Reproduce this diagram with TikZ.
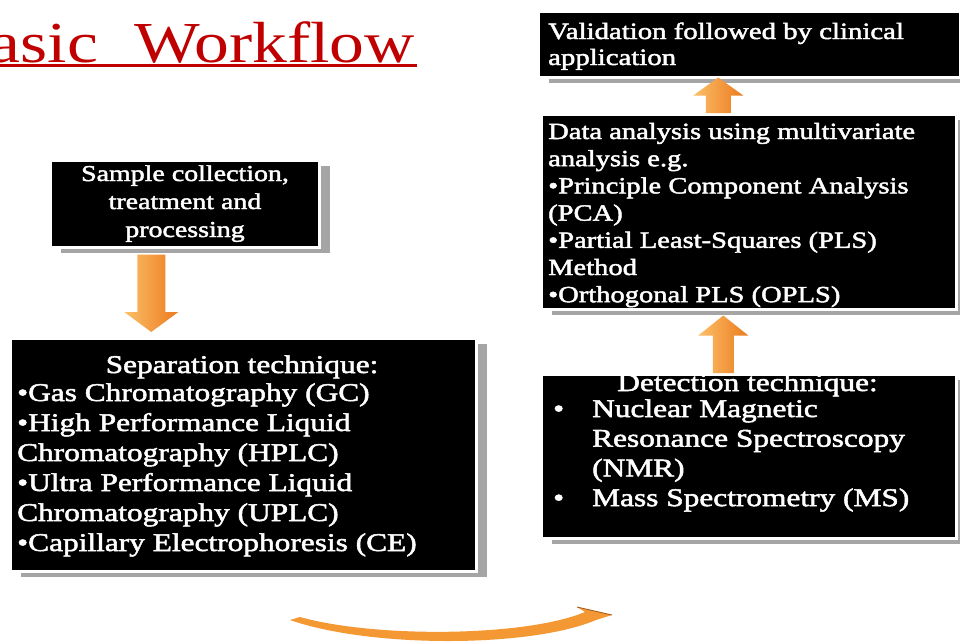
\documentclass[tikz,border=0pt]{standalone}
\usepackage{fontspec}
\setmainfont{Liberation Serif}[FakeStretch=1.23, FakeBold=2]
\newfontfamily\titlefont{Liberation Serif}[FakeStretch=1.2]
\usetikzlibrary{calc,shadows}
\definecolor{titlered}{RGB}{192,0,0}
\definecolor{olight}{RGB}{252,192,105}
\definecolor{odark}{RGB}{235,122,30}
\definecolor{ocurve}{RGB}{244,152,52}
\definecolor{shadowgray}{RGB}{165,165,165}
\newcommand{\leftlines}[1]{\vtop{\halign{##\hfil\cr #1\crcr}}}
\newcommand{\centerlines}[1]{\vtop{\halign{\hfil##\hfil\cr #1\crcr}}}
\newcommand{\bulletlines}[1]{\vtop{\halign{\hbox to 39pt{##\hfil}&##\hfil\cr #1\crcr}}}
\newcommand{\blockarrow}[5]{%
  \shade[arrowfill] ($(#1)+(-#3,0)$) -- ($(#2)+(-#3,#5)$) -- ($(#2)+(-#4,#5)$) -- (#2)
    -- ($(#2)+(#4,#5)$) -- ($(#2)+(#3,#5)$) -- ($(#1)+(#3,0)$) -- cycle;}
\tikzset{
  box/.style={rectangle, fill=black, draw=white, line width=2.5pt, inner sep=0pt,
    anchor=north west,
    drop shadow={shadow xshift=11pt, shadow yshift=-6pt, fill=shadowgray, opacity=1}},
  txt/.style={text=white, inner sep=0pt},
  arrowfill/.style={left color=olight, right color=odark},
}
\begin{document}
\begin{tikzpicture}[x=1pt,y=-1pt]
\useasboundingbox (0,0) rectangle (960,643);
\clip (0,0) rectangle (960,643);
\fill[white] (0,0) rectangle (960,643);

% title
\node[anchor=base east, text=titlered, inner sep=0pt] (title) at (415,62)
  {\titlefont\fontsize{58}{60}\selectfont Basic\hspace*{19pt} Workflow};
\draw[titlered, line width=3pt] ([yshift=-3pt]title.base west) -- ([yshift=-3pt,xshift=2pt]title.base east);

% boxes
\node[box, minimum width=422pt, minimum height=66pt] (val) at (537,10) {};
\node[box, minimum width=415pt, minimum height=195pt] (data) at (540,113) {};
\node[box, minimum width=415pt, minimum height=164pt] (det) at (540,373) {};
\node[box, minimum width=269pt, minimum height=87pt] (sample) at (49,159) {};
\node[box, minimum width=466pt, minimum height=233pt] (sep) at (9,337) {};

% texts
\node[txt, anchor=base west] (valT) at (548,39)
  {\fontsize{23.4}{26}\selectfont\leftlines{Validation followed by clinical\cr application}};
\node[txt, anchor=base west] (dataT) at (548,139)
  {\fontsize{23.2}{27.2}\selectfont\leftlines{Data analysis using multivariate\cr analysis e.g.\cr
   •Principle Component Analysis\cr (PCA)\cr •Partial Least-Squares (PLS)\cr Method\cr
   •Orthogonal PLS (OPLS)}};
\node[txt, anchor=base] (detH) at (747.5,391)
  {\fontsize{25.5}{29.7}\selectfont Detection technique:};
\node[txt, anchor=base west] (detL) at (553,417)
  {\fontsize{25.5}{29.7}\selectfont\bulletlines{•&Nuclear Magnetic\cr &Resonance Spectroscopy\cr
   &(NMR)\cr •&Mass Spectrometry (MS)}};
\node[txt, anchor=base] (sampleT) at (185,181)
  {\fontsize{22.7}{28}\selectfont\centerlines{Sample collection,\cr treatment and\cr processing}};
\node[txt, anchor=base] (sepH) at (242,373)
  {\fontsize{25.5}{30}\selectfont Separation technique:};
\node[txt, anchor=base west] (sepL) at (17,401)
  {\fontsize{25.5}{30}\selectfont\leftlines{•Gas Chromatography (GC)\cr •High Performance Liquid\cr
   Chromatography (HPLC)\cr •Ultra Performance Liquid\cr Chromatography (UPLC)\cr
   •Capillary Electrophoresis (CE)}};

% block arrows
\coordinate (aT) at ([xshift=-33.5pt,yshift=-6pt]sample.south);
\coordinate (aP) at ([xshift=-92pt,yshift=5pt]sep.north);
\blockarrow{aT}{aP}{14}{27}{-20}
\coordinate (bT) at ([xshift=-25.5pt]det.north);
\coordinate (bP) at ([xshift=-25.5pt,yshift=-5pt]data.south);
\blockarrow{bT}{bP}{10.5}{25}{20}
\coordinate (cT) at ([xshift=-30.5pt]data.north);
\coordinate (cP) at ([xshift=-31pt,yshift=1pt]val.south);
\blockarrow{cT}{cP}{12.5}{25}{18}

% curved arrow
\coordinate (cL) at (290,620);
\coordinate (cR) at (612,615);
\fill[ocurve] (cL) .. controls (370,648) and (530,648) .. (596,620) -- (cR) -- (577,607)
  -- (585,612) .. controls (525,637) and (375,638) .. (300,617) -- cycle;
\draw[odark!70!black, line width=0.8pt] (577,607) -- (cR);
\end{tikzpicture}
\end{document}
